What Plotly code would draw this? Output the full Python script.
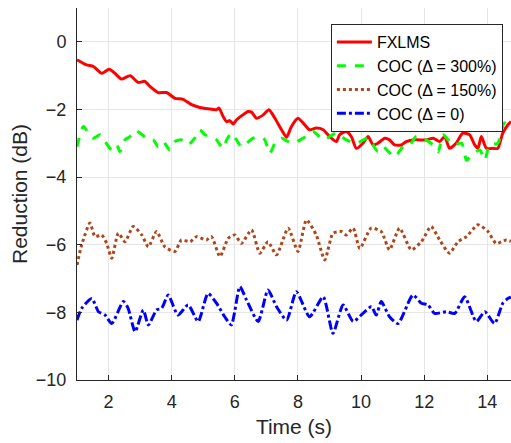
import plotly.graph_objects as go

# FXLMS
t_fx = [1.0, 1.3, 1.52, 1.78, 2.02, 2.2, 2.41, 2.68, 2.94, 3.15, 3.31, 3.57, 3.84, 4.1, 4.36, 4.63, 4.89, 5.15, 5.42, 5.5,
        5.63, 5.74, 5.84, 5.95, 6.05, 6.21, 6.42, 6.53, 6.69, 6.9, 7.08, 7.27, 7.48, 7.64, 7.79, 8.0, 8.22, 8.37, 8.58,
        8.8, 9.0, 9.22, 9.32, 9.53, 9.69, 9.85, 10.06, 10.22, 10.38, 10.53, 10.75, 10.9, 11.06, 11.27, 11.43, 11.64,
        11.85, 12.07, 12.28, 12.49, 12.65, 12.8, 13.01, 13.22, 13.44, 13.6, 13.7, 13.81, 13.97, 14.17, 14.33, 14.49,
        14.65, 14.75]
v_fx = [-0.53, -0.68, -0.73, -0.93, -0.81, -0.93, -1.10, -1.0, -1.20, -1.17, -1.32, -1.50, -1.50, -1.67, -1.70, -1.86,
        -1.94, -1.98, -2.01, -1.96, -2.21, -2.36, -2.33, -2.43, -2.31, -2.19, -2.06, -2.08, -2.26, -2.16, -2.01, -2.26,
        -2.60, -2.82, -2.51, -2.26, -2.46, -2.60, -2.55, -2.60, -2.80, -2.95, -2.75, -2.65, -2.80, -3.15, -3.0, -2.80,
        -3.05, -3.0, -2.85, -2.90, -3.05, -3.05, -2.95, -2.90, -2.90, -2.90, -2.85, -2.95, -2.80, -3.15, -3.0, -2.70,
        -2.75, -3.05, -3.15, -2.80, -3.15, -3.15, -3.15, -2.70, -2.46, -2.36]

# COC (Delta = 300%)
t_c300 = [1.0, 1.2, 1.36, 1.52, 1.73, 1.89, 2.1, 2.26, 2.36, 2.52, 2.68, 2.84, 3.0, 3.2, 3.42, 3.57, 3.73, 3.94, 4.1,
          4.31, 4.52, 4.73, 4.89, 5.05, 5.21, 5.42, 5.63, 5.74, 5.89, 6.05, 6.21, 6.37, 6.58, 6.79, 6.95, 7.11, 7.27,
          7.48, 7.69, 7.85, 8.16, 8.48, 8.8, 9.22, 9.53, 9.85, 10.22, 10.53, 10.69, 11.06, 11.33, 11.54, 11.75, 11.97,
          12.28, 12.44, 12.6, 12.76, 12.92, 13.19, 13.34, 13.5, 13.76, 13.92, 14.07, 14.33, 14.54, 14.75]
v_c300 = [-3.10, -2.50, -2.70, -2.85, -2.75, -2.95, -3.20, -3.05, -3.25, -2.90, -2.80, -2.62, -2.70, -2.85, -2.90,
          -3.10, -2.95, -3.20, -2.95, -2.90, -3.05, -2.85, -2.60, -2.75, -2.80, -2.90, -3.15, -2.90, -2.70, -2.90,
          -3.10, -3.0, -2.85, -2.80, -2.90, -3.30, -3.0, -2.85, -2.95, -3.0, -2.85, -2.65, -2.90, -2.70, -2.90, -3.0,
          -2.85, -3.25, -3.10, -3.40, -3.10, -3.05, -2.80, -2.85, -3.05, -3.25, -2.75, -2.90, -3.05, -3.0, -3.50,
          -3.35, -3.20, -3.50, -3.05, -3.0, -2.40, -2.50]

# COC (Delta = 150%)
t_c150 = [1.0, 1.15, 1.41, 1.57, 1.78, 1.94, 2.1, 2.31, 2.52, 2.78, 3.05, 3.26, 3.52, 3.78, 4.1, 4.31, 4.58, 4.79, 5.1,
          5.26, 5.53, 5.79, 6.0, 6.21, 6.53, 6.79, 7.05, 7.32, 7.69, 8.0, 8.27, 8.58, 8.85, 9.11, 9.38, 9.53, 9.75,
          9.96, 10.32, 10.64, 10.9, 11.22, 11.59, 11.91, 12.22, 12.49, 12.8, 13.07, 13.34, 13.7, 14.02, 14.28, 14.6,
          14.75]
v_c150 = [-6.60, -6.0, -5.36, -5.76, -5.71, -5.96, -6.40, -5.66, -5.91, -5.46, -5.71, -6.06, -5.61, -6.06, -6.20,
          -5.86, -5.91, -5.76, -5.86, -5.76, -6.35, -5.81, -5.71, -5.96, -5.56, -6.25, -5.91, -6.30, -5.51, -6.20,
          -5.27, -5.71, -6.45, -5.66, -5.61, -5.71, -5.51, -6.11, -5.51, -5.61, -6.15, -5.51, -6.15, -5.91, -5.46,
          -5.86, -6.25, -5.91, -5.76, -5.41, -5.61, -5.96, -5.86, -5.90]

# COC (Delta = 0)
t_c0 = [1.0, 1.15, 1.47, 1.68, 1.89, 2.1, 2.47, 2.62, 2.84, 3.1, 3.26, 3.52, 3.68, 3.89, 4.2, 4.52, 4.84, 5.15, 5.42,
        5.68, 5.89, 6.16, 6.37, 6.74, 7.05, 7.32, 7.64, 7.95, 8.37, 8.8, 9.11, 9.43, 9.75, 10.06, 10.33, 10.48, 10.64,
        10.9, 11.17, 11.64, 11.91, 12.12, 12.33, 12.7, 12.97, 13.28, 13.65, 13.92, 14.23, 14.49, 14.65, 14.75]
v_c0 = [-8.23, -7.88, -7.59, -7.98, -8.08, -8.33, -7.68, -7.88, -8.57, -7.93, -8.37, -7.93, -7.88, -7.49, -8.08,
        -7.78, -8.27, -7.44, -7.73, -8.13, -8.37, -7.24, -7.63, -8.27, -7.34, -7.83, -8.23, -7.39, -8.13, -7.54, -8.62,
        -7.78, -8.27, -8.03, -7.83, -8.08, -7.68, -8.13, -8.33, -7.49, -7.73, -7.78, -8.03, -7.98, -8.03, -7.54, -8.27,
        -7.98, -8.33, -7.73, -7.59, -7.55]

x_ticks = [2, 4, 6, 8, 10, 12, 14]
y_ticks = [-10, -8, -6, -4, -2, 0]

FONT = "Liberation Sans, Arial, sans-serif"

fig = go.Figure()
fig.add_trace(go.Scatter(x=t_fx, y=v_fx, mode="lines", name="FXLMS",
                         line=dict(color="#FF0000", width=3, shape="spline", smoothing=0.6)))
fig.add_trace(go.Scatter(x=t_c300, y=v_c300, mode="lines", name="COC (\u0394 = 300%)",
                         line=dict(color="#00FF00", width=3, dash="dash", shape="spline", smoothing=0.6)))
fig.add_trace(go.Scatter(x=t_c150, y=v_c150, mode="lines", name="COC (\u0394 = 150%)",
                         line=dict(color="#B0451A", width=3, dash="dot", shape="spline", smoothing=0.6)))
fig.add_trace(go.Scatter(x=t_c0, y=v_c0, mode="lines", name="COC (\u0394 = 0)",
                         line=dict(color="#0000FF", width=3, dash="dashdot", shape="spline", smoothing=0.6)))

fig.update_layout(
    width=511, height=443,
    margin=dict(l=77, r=0, t=8, b=63, autoexpand=False),
    paper_bgcolor="white", plot_bgcolor="white",
    font=dict(family=FONT, size=18, color="#262626"),
    legend=dict(x=0.585, y=0.957, xanchor="left", yanchor="top",
                bgcolor="white", bordercolor="#262626", borderwidth=1,
                font=dict(size=16, color="#000000"), tracegroupgap=0,
                itemwidth=35),
    showlegend=True,
)
fig.update_xaxes(range=[1, 14.75], tickvals=x_ticks, ticks="inside", ticklen=5, tickcolor="#262626",
                 showline=True, linecolor="#262626", linewidth=1, mirror=False, automargin=False,
                 showgrid=True, gridcolor="#E6E6E6", zeroline=False,
                 title=dict(text="Time (s)", font=dict(size=21), standoff=8),
                 tickfont=dict(size=18), ticklabelstandoff=5)
fig.update_yaxes(range=[-10, 1], tickvals=y_ticks, ticks="inside", ticklen=5, tickcolor="#262626",
                 showline=True, linecolor="#262626", linewidth=1, mirror=False, automargin=False,
                 showgrid=True, gridcolor="#E6E6E6", zeroline=False,
                 title=dict(text="Reduction (dB)", font=dict(size=21), standoff=2),
                 tickfont=dict(size=18), ticklabelstandoff=6)

fig.write_html("out.html", config={"displayModeBar": False},
               post_script="document.body.style.margin='0';document.body.style.padding='0';")
